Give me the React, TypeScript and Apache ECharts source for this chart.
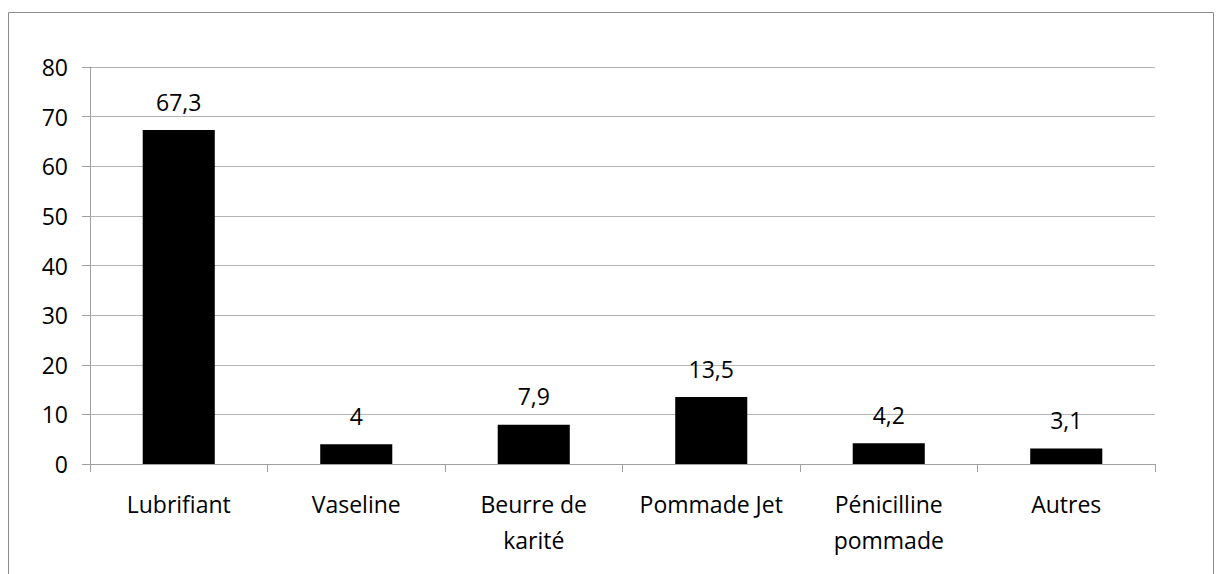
import React, { useEffect, useRef } from "react";
import * as echarts from "echarts";

const categories = ["Lubrifiant", "Vaseline", "Beurre de\nkarité", "Pommade Jet", "Pénicilline\npommade", "Autres"];
const values = [67.3, 4, 7.9, 13.5, 4.2, 3.1];
const yTicks = { min: 0, max: 80, interval: 10 };

export default function App() {
  const ref = useRef<HTMLDivElement>(null);
  useEffect(() => {
    const chart = echarts.init(ref.current!, null, { renderer: "svg" });
    const font = "'Open Sans', sans-serif";
    chart.setOption({
      animation: false,
      backgroundColor: "#ffffff",
      textStyle: { fontFamily: font },
      graphic: [
        {
          type: "rect",
          shape: { x: 8.5, y: 12.5, width: 1205, height: 600 },
          style: { fill: "none", stroke: "#8c8c8c", lineWidth: 1 },
          silent: true,
        },
      ],
      grid: { left: 90, right: 61, top: 67, bottom: 110, containLabel: false },
      xAxis: {
        type: "category",
        data: categories,
        axisLine: { lineStyle: { color: "#a0a0a0", width: 1 } },
        axisTick: { show: true, length: 8, lineStyle: { color: "#a0a0a0" } },
        axisLabel: {
          color: "#000",
          fontSize: 23,
          fontFamily: font,
          margin: 22,
          lineHeight: 36,
          interval: 0,
        },
      },
      yAxis: {
        type: "value",
        min: yTicks.min,
        max: yTicks.max,
        interval: yTicks.interval,
        axisLine: { show: true, lineStyle: { color: "#a0a0a0", width: 1 } },
        axisTick: { show: true, length: 8, lineStyle: { color: "#a0a0a0" } },
        splitLine: { show: true, lineStyle: { color: "#b4b4b4", width: 1 } },
        axisLabel: { color: "#000", fontSize: 23, fontFamily: font, margin: 22 },
      },
      series: [
        {
          type: "bar",
          data: values,
          barWidth: "40.6%",
          itemStyle: { color: "#000000" },
          label: {
            show: true,
            position: "top",
            distance: 17,
            color: "#000",
            fontSize: 23,
            fontFamily: font,
            formatter: (p: any) => String(p.value).replace(".", ","),
          },
        },
      ],
    });
    return () => chart.dispose();
  }, []);
  return (
    <div
      ref={ref}
      style={{ position: "fixed", left: 0, top: 0, width: 1216, height: 574 }}
    />
  );
}
